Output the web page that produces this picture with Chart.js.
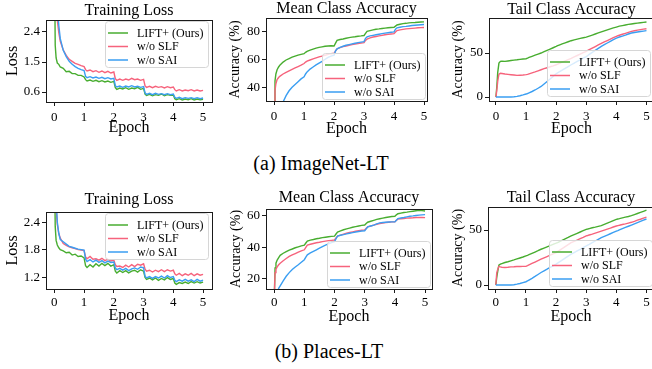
<!DOCTYPE html>
<html>
<head>
<meta charset="utf-8">
<script src="https://cdn.jsdelivr.net/npm/chart.js@4.4.0/dist/chart.umd.min.js"></script>
<style>
  html, body { margin: 0; padding: 0; background: #fff; overflow: hidden; }
  body { width: 652px; height: 369px; position: relative; font-family: "Liberation Serif", serif; }
  .panel { position: absolute; }
  .caption { position: absolute; width: 652px; text-align: center; font-size: 20px; line-height: 20px; color: #000; }
</style>
</head>
<body>
<div class="panel" id="p1"><canvas id="c1"></canvas></div>
<div class="panel" id="p2"><canvas id="c2"></canvas></div>
<div class="panel" id="p3"><canvas id="c3"></canvas></div>
<div class="panel" id="p4"><canvas id="c4"></canvas></div>
<div class="panel" id="p5"><canvas id="c5"></canvas></div>
<div class="panel" id="p6"><canvas id="c6"></canvas></div>
<div class="caption" style="left:-5px; top:153px;">(a) ImageNet-LT</div>
<div class="caption" style="left:3px; top:341px;">(b) Places-LT</div>

<script>
'use strict';

// ---- data ----
const epochs = [0, 0.03, 0.06, 0.1, 0.15, 0.2, 0.3, 0.4, 0.5, 0.6, 0.7, 0.8, 0.9, 1.0,
  1.05, 1.1, 1.2, 1.3, 1.4, 1.5, 1.6, 1.7, 1.8, 1.9, 2.0,
  2.05, 2.1, 2.2, 2.3, 2.4, 2.5, 2.6, 2.7, 2.8, 2.9, 3.0,
  3.05, 3.1, 3.2, 3.3, 3.4, 3.5, 3.6, 3.7, 3.8, 3.9, 4.0,
  4.05, 4.1, 4.2, 4.3, 4.4, 4.5, 4.6, 4.7, 4.8, 4.9, 5.0];

const seriesNames = ['LIFT+ (Ours)', 'w/o SLF', 'w/o SAI'];
const seriesColors = ['#48ad30', '#f6637c', '#3a9ef2'];

const epochTicks = [0, 1, 2, 3, 4, 5];

// ImageNet-LT
const imagenetLossLift = [5.0, 2.0, 1.62, 1.47, 1.43, 1.35, 1.31, 1.21, 1.22, 1.15, 1.15, 1.1, 1.1, 1.05,
  0.97, 0.93, 0.96, 0.92, 0.95, 0.91, 0.94, 0.9, 0.93, 0.89, 0.92,
  0.73, 0.68, 0.72, 0.69, 0.73, 0.68, 0.72, 0.7, 0.74, 0.68, 0.71,
  0.54, 0.5, 0.53, 0.49, 0.52, 0.5, 0.54, 0.49, 0.52, 0.5, 0.51,
  0.4, 0.37, 0.4, 0.36, 0.39, 0.37, 0.4, 0.36, 0.39, 0.37, 0.38];
const imagenetLossSlf = [6.0, 4.0, 3.2, 2.75, 2.38, 2.12, 1.86, 1.7, 1.58, 1.52, 1.46, 1.43, 1.39, 1.36,
  1.27, 1.23, 1.26, 1.21, 1.24, 1.19, 1.23, 1.18, 1.22, 1.17, 1.2,
  1.0, 0.95, 0.99, 0.95, 0.99, 0.96, 1.01, 0.97, 0.99, 0.95, 0.98,
  0.78, 0.74, 0.77, 0.73, 0.77, 0.74, 0.76, 0.72, 0.76, 0.73, 0.75,
  0.67, 0.63, 0.67, 0.63, 0.66, 0.64, 0.67, 0.63, 0.66, 0.63, 0.65];
const imagenetLossSai = [8.0, 6.0, 4.5, 3.2, 2.6, 2.2, 1.85, 1.66, 1.52, 1.43, 1.36, 1.31, 1.27, 1.24,
  1.07, 1.03, 1.06, 1.02, 1.05, 1.01, 1.04, 1.0, 1.03, 0.99, 1.01,
  0.79, 0.75, 0.78, 0.74, 0.78, 0.75, 0.79, 0.75, 0.77, 0.74, 0.76,
  0.57, 0.53, 0.56, 0.52, 0.56, 0.53, 0.55, 0.52, 0.55, 0.52, 0.54,
  0.44, 0.41, 0.44, 0.4, 0.43, 0.41, 0.43, 0.4, 0.43, 0.4, 0.42];

const imagenetMeanLift = [25, 45, 50, 53, 55, 56.5, 58.5, 60, 61, 62, 62.8, 63.5, 64, 64.5,
  65.5, 66.2, 67, 67.8, 68.5, 69, 69.4, 69.8, 70, 70.2, 70,
  72, 74, 74.6, 75, 75.5, 76, 76.3, 76.6, 77, 77.2, 77.5,
  79, 80.5, 81, 81.5, 82, 82.2, 82.5, 82.8, 83, 83.2, 83.4,
  84.2, 85, 85.5, 86, 86.2, 86.5, 86.7, 86.8, 87, 87.1, 87.2];
const imagenetMeanSlf = [25, 38, 43, 46, 47.5, 48.5, 50, 51.2, 52.3, 53.3, 54.3, 55.3, 56.3, 57.5,
  58.5, 59.2, 60, 60.8, 61.5, 62.2, 62.8, 63.4, 64, 64.5, 64.8,
  66.5, 68, 68.8, 69.5, 70, 70.5, 71, 71.4, 71.8, 72.1, 72.4,
  74, 75, 75.8, 76.4, 76.8, 77.2, 77.6, 78, 78.3, 78.6, 78.8,
  80, 81, 81.5, 81.9, 82.2, 82.4, 82.6, 82.8, 83, 83.1, 83.2];
const imagenetMeanSai = [10, 12, 14, 16, 20, 23, 30, 34.5, 38, 40.5, 42.5, 44.5, 46.5, 48,
  50, 51.5, 53.5, 55, 56.5, 57.8, 59, 60.5, 61.8, 62.8, 63.5,
  66.5, 68, 69, 69.8, 70.5, 71, 71.5, 72, 72.4, 72.8, 73.1,
  75.5, 76.5, 77.2, 77.6, 78, 78.4, 78.8, 79.2, 79.5, 79.8, 80.1,
  82, 83, 83.4, 83.8, 84, 84.3, 84.6, 84.8, 85, 85.2, 85.4];

const imagenetTailLift = [0, 12, 28, 38.5, 40.5, 40.8, 40.5, 41, 41.5, 42, 42.3, 42.8, 43.2, 43.5,
  44.2, 45, 46.3, 47.6, 48.8, 50, 51.5, 53, 54.5, 56, 57.5,
  58.3, 59, 60.3, 61.6, 62.8, 64, 64.9, 65.8, 66.6, 67.3, 68,
  68.6, 69.2, 70.4, 71.6, 72.8, 74, 75.2, 76.4, 77.5, 78.5, 79.5,
  80, 80.5, 81.2, 81.9, 82.5, 83, 83.5, 84, 84.4, 84.8, 85.2];
const imagenetTailSlf = [0, 8, 18, 26, 27, 26.8, 26.2, 25.8, 25.4, 25, 24.6, 24.8, 25, 25.4,
  25.8, 26.4, 27.5, 28.6, 29.8, 31, 32.2, 33.3, 34.4, 35.5, 36.7,
  37.4, 38.1, 39.6, 41, 42.5, 44, 45.6, 47.2, 48.8, 50.4, 52,
  52.9, 53.8, 55.6, 57.4, 59.2, 61, 62.6, 64.2, 65.8, 67.4, 69,
  69.6, 70.2, 71.3, 72.4, 73.5, 74.6, 75.3, 76, 76.6, 77.1, 77.6];
const imagenetTailSai = [0, 0, 0, 0, 0, 0, 0, 0, 0, 0.3, 0.8, 1.5, 2.4, 3.4,
  4, 4.8, 6.3, 8, 10, 12, 14.8, 17.6, 20.5, 23.5, 26.5,
  27.5, 28.5, 30.5, 32.6, 34.6, 36.7, 38.6, 40.5, 42.3, 44.2, 46,
  47.2, 48.4, 50.7, 53, 55.3, 57.6, 59.5, 61.4, 63.3, 65.2, 67,
  67.6, 68.2, 69.3, 70.4, 71.6, 72.7, 73.3, 73.9, 74.4, 74.9, 75.4];

// Places-LT
const placesLossLift = [4.0, 2.3, 2.0, 1.9, 1.84, 1.8, 1.77, 1.73, 1.74, 1.68, 1.7, 1.65, 1.66, 1.62,
  1.45, 1.41, 1.47, 1.42, 1.49, 1.44, 1.5, 1.45, 1.5, 1.44, 1.47,
  1.33, 1.29, 1.34, 1.3, 1.34, 1.29, 1.33, 1.35, 1.31, 1.36, 1.33,
  1.19, 1.15, 1.18, 1.14, 1.18, 1.13, 1.17, 1.14, 1.19, 1.15, 1.17,
  1.07, 1.04, 1.08, 1.06, 1.09, 1.06, 1.1, 1.07, 1.1, 1.07, 1.09];
const placesLossSlf = [5.0, 3.2, 2.7, 2.35, 2.15, 2.05, 1.93, 1.89, 1.86, 1.84, 1.82, 1.8, 1.79, 1.78,
  1.64, 1.6, 1.65, 1.59, 1.6, 1.57, 1.61, 1.56, 1.59, 1.55, 1.57,
  1.47, 1.43, 1.44, 1.41, 1.46, 1.42, 1.47, 1.43, 1.48, 1.46, 1.49,
  1.37, 1.33, 1.35, 1.31, 1.35, 1.32, 1.36, 1.32, 1.36, 1.33, 1.35,
  1.27, 1.24, 1.28, 1.23, 1.27, 1.24, 1.28, 1.23, 1.27, 1.24, 1.26];
const placesLossSai = [6.0, 3.8, 2.9, 2.4, 2.15, 2.02, 1.97, 1.92, 1.87, 1.85, 1.83, 1.81, 1.8, 1.79,
  1.59, 1.54, 1.58, 1.53, 1.57, 1.52, 1.56, 1.51, 1.55, 1.52, 1.53,
  1.4, 1.36, 1.39, 1.35, 1.39, 1.34, 1.38, 1.4, 1.37, 1.42, 1.4,
  1.22, 1.18, 1.21, 1.17, 1.21, 1.18, 1.22, 1.18, 1.23, 1.19, 1.21,
  1.13, 1.1, 1.14, 1.11, 1.15, 1.11, 1.14, 1.1, 1.15, 1.11, 1.13];

const placesMeanLift = [5, 27, 30, 32, 33.5, 35, 36.3, 37.3, 38.3, 39, 39.8, 40.4, 41, 41.5,
  42.8, 44, 44.6, 45, 45.5, 45.8, 46.2, 46.5, 46.8, 47, 47.2,
  48.5, 49.8, 50.5, 51.2, 51.8, 52.3, 52.8, 53.2, 53.6, 54, 54.2,
  55.2, 56, 56.6, 57.2, 57.8, 58.2, 58.6, 59, 59.3, 59.6, 59.8,
  60.7, 61.4, 61.8, 62.2, 62.4, 62.7, 63, 63.3, 63.6, 63.4, 63.1];
const placesMeanSlf = [5, 24, 26, 27.6, 29, 30, 31.5, 33, 34.3, 35.2, 36.1, 37, 37.8, 38.5,
  40, 41.5, 42, 42.5, 43, 43.3, 43.7, 44, 44.3, 44.5, 44.7,
  46, 47.2, 47.8, 48.4, 49, 49.5, 49.9, 50.3, 50.6, 50.9, 51.1,
  52.2, 53, 53.6, 54.2, 54.7, 55.2, 55.5, 55.8, 56, 56.2, 56.3,
  57.2, 58, 58.2, 58.4, 58.6, 58.7, 58.8, 59, 59.1, 59, 58.9];
const placesMeanSai = [0, 0, 2, 11, 14, 15.6, 18.8, 21.7, 24, 26, 27.6, 29, 30.6, 32.2,
  33.8, 35.3, 36.5, 37.5, 38.5, 39.5, 40.5, 41.4, 42.2, 43, 43.7,
  45.5, 47.2, 47.7, 48.1, 48.6, 49, 49.4, 49.8, 50.1, 50.4, 50.6,
  51.8, 53, 53.6, 54.2, 55, 55.6, 55.8, 56, 56.1, 56.2, 56.2,
  57.3, 58.3, 58.7, 59, 59.4, 59.8, 60, 60.3, 60.5, 60.7, 60.8];

const placesTailLift = [0, 7, 12, 18, 19, 19.5, 20.5, 21.2, 22, 22.8, 23.7, 24.6, 25.5, 26.5,
  27, 27.6, 28.8, 30, 31.2, 32.5, 33.6, 34.7, 35.8, 36.9, 38,
  38.6, 39.3, 40.6, 41.9, 43.2, 44.6, 45.8, 47, 48.2, 49.4, 50.6,
  50.9, 51.3, 52, 52.6, 53.3, 54, 55.1, 56.2, 57.3, 58.5, 59.6,
  60, 60.3, 61, 61.7, 62.3, 63, 64, 65, 66, 67, 68];
const placesTailSlf = [0, 11, 14, 17, 16.5, 16.2, 16, 16.2, 16.5, 16.6, 16.8, 16.9, 17, 17,
  17.6, 18.3, 19.6, 20.9, 22.2, 23.5, 24.7, 25.9, 27.1, 28.3, 29.5,
  30.4, 31.3, 33.1, 34.9, 36.7, 38.5, 39.7, 40.9, 42.1, 43.3, 44.6,
  45, 45.5, 46.3, 47.2, 48.1, 49, 49.9, 50.8, 51.7, 52.7, 53.6,
  54, 54.3, 55, 55.6, 56.3, 57, 57.9, 58.9, 59.8, 60.8, 61.7];
const placesTailSai = [0, 0, 0, 0, 0, 0, 0, 0, 0, 0.3, 0.8, 1.4, 2.2, 3,
  3.7, 4.5, 6.1, 7.8, 9.6, 11.4, 12.9, 14.4, 16, 17.5, 19,
  19.9, 20.8, 22.6, 24.4, 26.2, 28, 29.5, 31, 32.5, 34, 35.5,
  36.3, 37, 38.5, 40, 41.5, 43, 44.2, 45.4, 46.6, 47.8, 49,
  49.5, 50.1, 51.2, 52.3, 53.4, 54.5, 55.6, 56.7, 57.8, 58.9, 60];

const imagenetLossTicks = [0.6, 1.5, 2.4];
const imagenetMeanTicks = [40, 60, 80];
const imagenetTailTicks = [0, 50];
const placesLossTicks = [1.2, 1.8, 2.4];
const placesMeanTicks = [20, 40, 60];
const placesTailTicks = [0, 50];

// ---- panel layout ----
const panels = [
  { id: 'c1', box: [0, 0, 216, 140], yW: 46, xH: 38, padTop: 20, padRight: 4,
    x: [-0.28, 5.3], y: [0.3, 2.76], ticks: imagenetLossTicks, dec: 1, tickPad: 4,
    title: 'Training Loss', titleY: 15, yLabel: 'Loss', yFont: 16, yPad: 3.2, xPad: 2.7,
    legend: { corner: 'top', insetX: 4, insetY: 1 },
    series: [imagenetLossLift, imagenetLossSlf, imagenetLossSai] },
  { id: 'c2', box: [218, 0, 214, 140], yW: 48, xH: 39, padTop: 18, padRight: 5,
    x: [-0.27, 5.1], y: [30.7, 90], ticks: imagenetMeanTicks, dec: 0, tickPad: 4,
    title: 'Mean Class Accuracy', titleY: 13, yLabel: 'Accuracy (%)', yFont: 14, yPad: 8.6, xPad: 2,
    legend: { corner: 'bottom', insetX: 2, insetY: 2 },
    series: [imagenetMeanLift, imagenetMeanSlf, imagenetMeanSai] },
  { id: 'c3', box: [436, 0, 220, 140], yW: 53, xH: 39, padTop: 18, padRight: 2,
    x: [-0.23, 5.25], y: [-4.5, 89.8], ticks: imagenetTailTicks, dec: 0, tickPad: 4,
    title: 'Tail Class Accuracy', titleY: 14, yLabel: 'Accuracy (%)', yFont: 14, yPad: 13.6, xPad: 2,
    legend: { corner: 'bottom', insetX: 4, insetY: 5 },
    series: [imagenetTailLift, imagenetTailSlf, imagenetTailSai] },
  { id: 'c4', box: [0, 190, 216, 140], yW: 46, xH: 41, padTop: 22, padRight: 4,
    x: [-0.28, 5.3], y: [0.94, 2.62], ticks: placesLossTicks, dec: 1, tickPad: 2,
    title: 'Training Loss', titleY: 14, yLabel: 'Loss', yFont: 16, yPad: 3.2, xPad: 4.4,
    legend: { corner: 'top', insetX: 4, insetY: 1 },
    series: [placesLossLift, placesLossSlf, placesLossSai] },
  { id: 'c5', box: [218, 190, 218, 140], yW: 48, xH: 41, padTop: 19, padRight: 4,
    x: [-0.27, 5.23], y: [13.6, 64.4], ticks: placesMeanTicks, dec: 0, tickPad: 2,
    title: 'Mean Class Accuracy', titleY: 12, yLabel: 'Accuracy (%)', yFont: 14, yPad: 10, xPad: 3.7,
    legend: { corner: 'bottom', insetX: 2, insetY: 2 },
    series: [placesMeanLift, placesMeanSlf, placesMeanSai] },
  { id: 'c6', box: [436, 190, 220, 140], yW: 52, xH: 41, padTop: 17, padRight: 2,
    x: [-0.26, 5.25], y: [-3.6, 70.9], ticks: placesTailTicks, dec: 0, tickPad: 2,
    title: 'Tail Class Accuracy', titleY: 12, yLabel: 'Accuracy (%)', yFont: 14, yPad: 13.6, xPad: 3.7,
    legend: { corner: 'bottom', insetX: 2, insetY: 3 },
    series: [placesTailLift, placesTailSlf, placesTailSai] }
];

const SERIF = '"Liberation Serif", "Times New Roman", serif';
const INK = '#1a1a1a';

function roundedRect(ctx, x, y, w, h, r) {
  ctx.beginPath();
  ctx.moveTo(x + r, y);
  ctx.arcTo(x + w, y, x + w, y + h, r);
  ctx.arcTo(x + w, y + h, x, y + h, r);
  ctx.arcTo(x, y + h, x, y, r);
  ctx.arcTo(x, y, x + w, y, r);
  ctx.closePath();
}

// axes frame, title and matplotlib-like legend
const panelDeco = {
  id: 'panelDeco',
  afterDatasetsDraw(chart, args, opts) {
    const ctx = chart.ctx;
    const a = chart.chartArea;
    ctx.save();

    // legend box
    ctx.font = '12px ' + SERIF;
    const names = chart.data.datasets.map(d => d.label);
    const textW = Math.max(...names.map(n => ctx.measureText(n).width));
    const rowH = 13.5, lineLen = 20, gap = 9;
    const w = Math.round(3 + lineLen + gap + textW + 5);
    const h = 46;
    const lx = Math.round(a.right - opts.legend.insetX - w);
    const ly = opts.legend.corner === 'top'
      ? Math.round(a.top + opts.legend.insetY)
      : Math.round(a.bottom - opts.legend.insetY - h);
    roundedRect(ctx, lx + 0.5, ly + 0.5, w, h, 3);
    ctx.fillStyle = 'rgba(255,255,255,0.8)';
    ctx.fill();
    ctx.strokeStyle = '#d6d6d6';
    ctx.lineWidth = 1;
    ctx.stroke();
    chart.data.datasets.forEach((ds, i) => {
      const cy = ly + 12 + rowH * i;
      ctx.beginPath();
      ctx.moveTo(lx + 3, cy);
      ctx.lineTo(lx + 3 + lineLen, cy);
      ctx.strokeStyle = ds.borderColor;
      ctx.lineWidth = 1.5;
      ctx.stroke();
      ctx.fillStyle = '#000';
      ctx.textAlign = 'left';
      ctx.textBaseline = 'middle';
      ctx.fillText(ds.label, lx + 3 + lineLen + gap, cy + 0.5);
    });

    // full axes frame
    ctx.strokeStyle = INK;
    ctx.lineWidth = 1;
    ctx.strokeRect(Math.round(a.left) + 0.5, Math.round(a.top) + 0.5,
      Math.round(a.right - a.left), Math.round(a.bottom - a.top));

    // title
    ctx.font = '16px ' + SERIF;
    ctx.fillStyle = '#000';
    ctx.textAlign = 'center';
    ctx.textBaseline = 'alphabetic';
    ctx.fillText(opts.title, (a.left + a.right) / 2, opts.titleY);
    ctx.restore();
  }
};

function makeChart(p) {
  const holder = document.getElementById(p.id).parentNode;
  holder.style.left = p.box[0] + 'px';
  holder.style.top = p.box[1] + 'px';
  const canvas = document.getElementById(p.id);
  canvas.width = p.box[2];
  canvas.height = p.box[3];

  const datasets = p.series.map((vals, i) => ({
    label: seriesNames[i],
    data: epochs.map((e, k) => ({ x: e, y: vals[k] })),
    borderColor: seriesColors[i],
    borderWidth: 1.4,
    pointRadius: 0,
    tension: 0,
    fill: false,
    order: 2 - i
  }));

  new Chart(canvas, {
    type: 'line',
    data: { datasets: datasets },
    plugins: [panelDeco],
    options: {
      responsive: false,
      animation: false,
      devicePixelRatio: 1,
      layout: { padding: { top: p.padTop, right: p.padRight, left: 0, bottom: 0 } },
      plugins: {
        legend: { display: false },
        tooltip: { enabled: false },
        panelDeco: { title: p.title, titleY: p.titleY, legend: p.legend }
      },
      scales: {
        x: {
          type: 'linear',
          min: p.x[0], max: p.x[1],
          afterBuildTicks: s => { s.ticks = epochTicks.map(v => ({ value: v })); },
          afterFit: s => { s.height = p.xH; },
          grid: { display: true, drawOnChartArea: false, drawTicks: true, tickLength: 4, tickColor: INK, lineWidth: 1 },
          border: { display: false },
          ticks: { color: '#000', padding: p.tickPad, maxRotation: 0, font: { family: SERIF, size: 13 },
                   callback: v => String(v) },
          title: { display: true, text: 'Epoch', color: '#000',
                   font: { family: SERIF, size: 16, lineHeight: 1.2 }, padding: { top: 0, bottom: p.xPad } }
        },
        y: {
          type: 'linear',
          min: p.y[0], max: p.y[1],
          afterBuildTicks: s => { s.ticks = p.ticks.map(v => ({ value: v })); },
          afterFit: s => { s.width = p.yW; },
          grid: { display: true, drawOnChartArea: false, drawTicks: true, tickLength: 4, tickColor: INK, lineWidth: 1 },
          border: { display: false },
          ticks: { color: '#000', padding: 2, font: { family: SERIF, size: 13 },
                   callback: v => v.toFixed(p.dec) },
          title: { display: true, text: p.yLabel, color: '#000',
                   font: { family: SERIF, size: p.yFont, lineHeight: 1.2 }, padding: { top: p.yPad, bottom: 0 } }
        }
      }
    }
  });
}

panels.forEach(makeChart);
</script>
</body>
</html>
